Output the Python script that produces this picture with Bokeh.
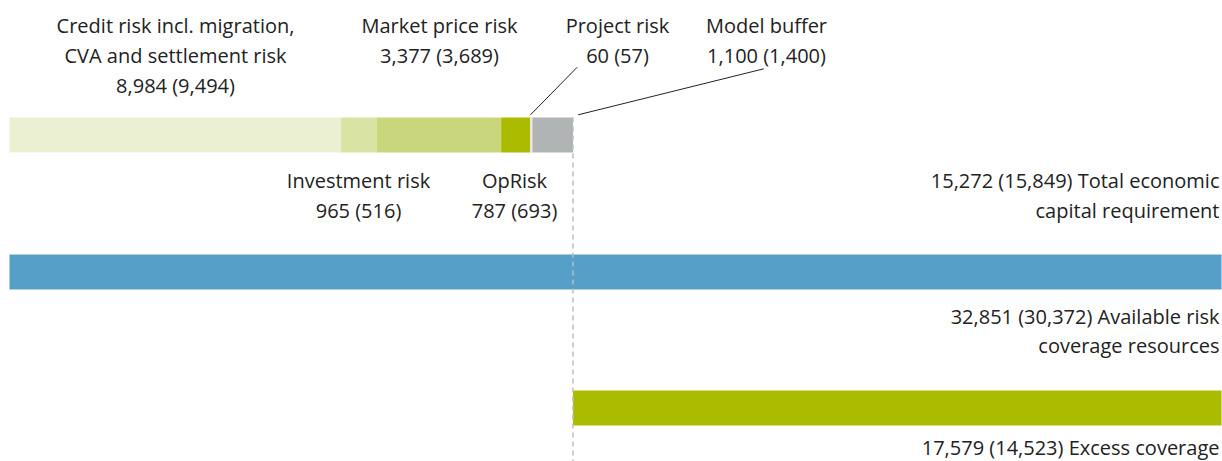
from bokeh.plotting import figure
from bokeh.models import Range1d
from bokeh.core.properties import value
from bokeh.embed import file_html
from bokeh.resources import INLINE

# ---- data ----
components = ["Credit risk incl. migration, CVA and settlement risk", "Investment risk",
              "Market price risk", "OpRisk", "Project risk", "Model buffer"]
comp_values = [8984, 965, 3377, 787, 60, 1100]
comp_prev = [9494, 516, 3689, 693, 57, 1400]
comp_colors = ["#ecf0d3", "#d9e3a4", "#c9d67c", "#abbb00", "#e4e6e6", "#b1b4b4"]

total_req = 15272
total_req_prev = 15849
available = 32851
available_prev = 30372
excess = 17579
excess_prev = 14523

def fmt(v):
    return f"{v:,}"

W, H = 1222, 461
# pixel mapping: value 0 -> px 9, available -> px 1221
k = 1212.0 / available
x0 = -9.0 / k
x1 = x0 + W / k

p = figure(width=W, height=H, output_backend="svg", toolbar_location=None,
           x_range=Range1d(x0, x1), y_range=Range1d(H, 0),
           min_border=0, outline_line_color=None)
p.axis.visible = False
p.grid.visible = False
p.background_fill_color = "white"

def sx(px):
    """pixel x -> data x"""
    return (px - 9) / k

# stacked economic capital bar
lefts, rights = [], []
acc = 0
for v in comp_values:
    lefts.append(acc)
    acc += v
    rights.append(acc)
p.quad(left=lefts, right=rights, top=[117] * 6, bottom=[152] * 6,
       fill_color=comp_colors, line_color=None)

# available risk coverage
p.quad(left=[0], right=[available], top=[254], bottom=[289], fill_color="#559fc8", line_color=None)
# excess coverage
p.quad(left=[total_req], right=[total_req + excess], top=[390], bottom=[425],
       fill_color="#abbb00", line_color=None)

# dashed reference line
p.segment(x0=[total_req], x1=[total_req], y0=[117], y1=[H],
          line_color="#bdbdbd", line_width=1.5, line_dash="5 4")

# leader lines
p.segment(x0=[sx(576.7), sx(763.3)], x1=[sx(530), sx(577.7)], y0=[66.7, 68.3], y1=[114.3, 114.3],
          line_color="#222222", line_width=1)

font = value("Open Sans")
fs = "20px"
col = "#222222"

def label(xpx, ys, lines, align="center"):
    p.text(x=[sx(xpx)] * len(lines), y=ys, text=lines, text_font=font, text_font_size=fs,
           text_color=col, text_align=align, text_baseline="middle")

label(175, [25, 55, 85], ["Credit risk incl. migration,", "CVA and settlement risk",
                          f"{fmt(comp_values[0])} ({fmt(comp_prev[0])})"])
label(439, [25, 55], [components[2], f"{fmt(comp_values[2])} ({fmt(comp_prev[2])})"])
label(617, [25, 55], [components[4], f"{fmt(comp_values[4])} ({fmt(comp_prev[4])})"])
label(766, [25, 55], [components[5], f"{fmt(comp_values[5])} ({fmt(comp_prev[5])})"])
label(358, [180, 210], [components[1], f"{fmt(comp_values[1])} ({fmt(comp_prev[1])})"])
label(514, [180, 210], [components[3], f"{fmt(comp_values[3])} ({fmt(comp_prev[3])})"])

label(1219, [180, 210], [f"{fmt(total_req)} ({fmt(total_req_prev)}) Total economic",
                         "capital requirement"], align="right")
label(1219, [316, 345], [f"{fmt(available)} ({fmt(available_prev)}) Available risk",
                         "coverage resources"], align="right")
label(1219, [447], [f"{fmt(excess)} ({fmt(excess_prev)}) Excess coverage"], align="right")

open("out.html", "w").write(file_html(p, INLINE))
